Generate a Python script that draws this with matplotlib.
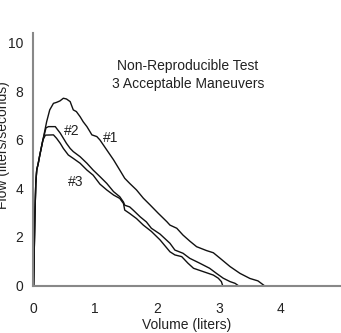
import numpy as np
import matplotlib
matplotlib.use("Agg")
import matplotlib.pyplot as plt

plt.rcParams["font.family"] = ["Liberation Sans Narrow", "Liberation Sans", "DejaVu Sans"]

# flow-volume loops (volume in liters, flow in l/s)
vol_1 = [0.01, 0.03, 0.045, 0.06, 0.085, 0.11, 0.16, 0.22, 0.27, 0.33, 0.38, 0.435,
         0.49, 0.54, 0.60, 0.62, 0.65, 0.70, 0.76, 0.81, 0.87, 0.92, 0.95, 1.03,
         1.08, 1.19, 1.30, 1.40, 1.48, 1.56, 1.67, 1.78, 1.89, 2.02, 2.16, 2.21,
         2.32, 2.42, 2.53, 2.64, 2.80, 2.91, 3.02, 3.18, 3.34, 3.50, 3.63, 3.73]
flow_1 = [0.0, 2.84, 4.21, 4.76, 5.04, 5.38, 6.0, 6.75, 7.24, 7.51, 7.55, 7.61,
          7.72, 7.69, 7.58, 7.44, 7.24, 7.17, 6.96, 6.75, 6.55, 6.34, 6.21, 6.14,
          6.0, 5.59, 5.18, 4.76, 4.42, 4.21, 3.94, 3.60, 3.32, 2.98, 2.63, 2.49,
          2.36, 2.08, 1.83, 1.60, 1.44, 1.35, 1.12, 0.78, 0.50, 0.29, 0.19, 0.0]

vol_2 = [0.01, 0.03, 0.045, 0.06, 0.085, 0.11, 0.16, 0.21, 0.25, 0.36, 0.38, 0.44,
         0.49, 0.54, 0.60, 0.65, 0.76, 0.87, 0.97, 1.08, 1.19, 1.30, 1.40, 1.46,
         1.48, 1.56, 1.62, 1.73, 1.83, 1.91, 2.05, 2.21, 2.29, 2.42, 2.53, 2.69,
         2.85, 2.96, 3.07, 3.18, 3.26, 3.31]
flow_2 = [0.0, 2.84, 4.21, 4.76, 5.04, 5.38, 6.0, 6.5, 6.55, 6.55, 6.48, 6.28,
          6.07, 5.86, 5.65, 5.52, 5.31, 5.04, 4.76, 4.49, 4.21, 3.87, 3.66, 3.44,
          3.31, 3.24, 3.10, 2.83, 2.62, 2.36, 2.12, 1.74, 1.46, 1.33, 1.12, 0.92,
          0.71, 0.50, 0.30, 0.16, 0.09, 0.0]

vol_3 = [0.01, 0.03, 0.045, 0.06, 0.085, 0.11, 0.16, 0.20, 0.33, 0.38, 0.44, 0.49,
         0.57, 0.65, 0.76, 0.87, 0.97, 1.08, 1.19, 1.30, 1.40, 1.46, 1.48, 1.56,
         1.67, 1.78, 1.91, 2.05, 2.21, 2.29, 2.40, 2.50, 2.59, 2.75, 2.91, 2.99,
         3.04, 3.06]
flow_3 = [0.0, 2.84, 4.21, 4.76, 5.04, 5.38, 6.0, 6.2, 6.21, 6.07, 5.86, 5.65,
          5.38, 5.24, 5.04, 4.76, 4.55, 4.18, 3.94, 3.73, 3.59, 3.38, 3.11, 2.97,
          2.76, 2.49, 2.23, 1.88, 1.39, 1.26, 1.19, 0.92, 0.71, 0.57, 0.43, 0.30,
          0.16, 0.0]

x_ticks = [0, 1, 2, 3, 4]
y_ticks = [0, 2, 4, 6, 8, 10]
curve_labels = ["#1", "#2", "#3"]
label_pos = [(1.26, 6.08), (0.62, 6.37), (0.685, 4.25)]

W, H = 341, 333
fig = plt.figure(figsize=(W / 100, H / 100), dpi=100)
ax = fig.add_axes([33 / W, (H - 285.5) / H, (W - 33) / W, 252.5 / H])

for v, f in [(vol_1, flow_1), (vol_2, flow_2), (vol_3, flow_3)]:
    ax.plot(v, f, color="#111111", lw=1.0, solid_joinstyle="round")

for lab, (x, y) in zip(curve_labels, label_pos):
    ax.text(x, y, lab, ha="center", va="center", fontsize=10, color="#222222")

ax.text(0.503, 0.835, "Non-Reproducible Test\n3 Acceptable Maneuvers",
        transform=ax.transAxes, ha="center", va="center", fontsize=10,
        linespacing=1.35, color="#222222")

ax.set_xlim(0, 4.97)
ax.set_ylim(0, 10.41)
ax.set_xticks(x_ticks)
ax.set_yticks(y_ticks)
ax.tick_params(axis="x", length=0, pad=12, labelsize=10, colors="#222222")
ax.tick_params(axis="y", length=0, pad=7, labelsize=10, colors="#222222")
for s in ["top", "right"]:
    ax.spines[s].set_visible(False)
for s in ["left", "bottom"]:
    ax.spines[s].set_color("#888888")
    ax.spines[s].set_linewidth(1.5)

ax.set_xlabel("Volume (liters)", fontsize=10, color="#222222")
ax.xaxis.set_label_coords(0.5, -0.13)
ax.xaxis.label.set_va("top")
# partly outside the left edge, as in the reference
fig.text(3.5 / W, (H - 145) / H, "Flow (liters/seconds)", rotation=90,
         ha="center", va="center", fontsize=10, color="#222222")

fig.savefig("out.png", dpi=100)
